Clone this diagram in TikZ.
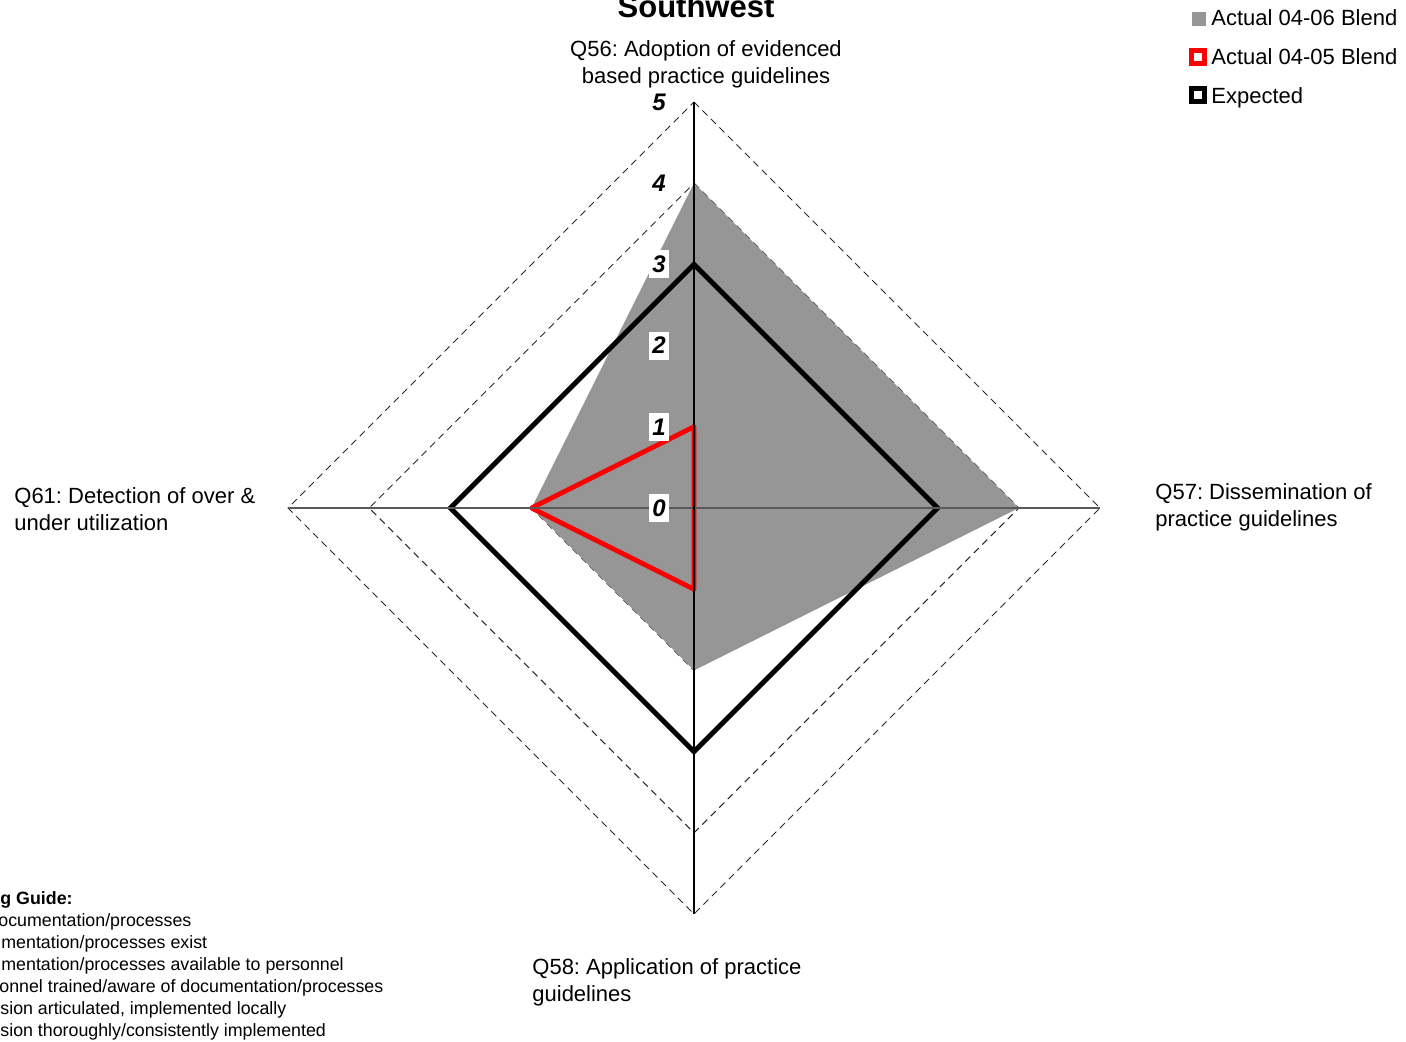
\documentclass[tikz,border=0pt]{standalone}
\usepackage{fontspec}
\setmainfont{Liberation Sans}
\frenchspacing
\definecolor{chartgray}{RGB}{150,150,150}
\definecolor{gridgray}{RGB}{40,40,40}
\begin{document}
\begin{tikzpicture}[x=0.5pt,y=-0.5pt,
  gridline/.style={draw=gridgray, line width=0.5pt, dash pattern=on 3.5pt off 2.5pt},
  actualnew/.style={fill=chartgray},
  actualold/.style={draw=red, line width=2.4pt, line join=round},
  expected/.style={draw=black, line width=2.5pt, line join=miter},
  vaxis/.style={draw=black, line width=0.6pt},
  haxis/.style={draw=black!65, line width=1pt},
  numlab/.style={fill=white, inner sep=0pt, minimum width=10pt, minimum height=14pt, font=\bfseries\itshape\fontsize{12}{14}\selectfont},
  axlab/.style={inner sep=0pt, font=\fontsize{11}{13.5}\selectfont},
  legtext/.style={anchor=west, inner sep=0pt, font=\fontsize{11}{13.5}\selectfont},
  guide/.style={anchor=base west, inner sep=0pt, font=\fontsize{8.9}{11}\selectfont}
]
\useasboundingbox (0,0) rectangle (1406,1042);
\clip (0,0) rectangle (1406,1042);

% axis end points
\coordinate (T5) at (694,102);
\coordinate (R5) at (1100,508);
\coordinate (B5) at (694,914);
\coordinate (L5) at (288,508);

% dashed grid rings
\foreach \k in {1,...,5}
  \draw[gridline] (694,{508-81.2*\k}) -- ({694+81.2*\k},508) -- (694,{508+81.2*\k}) -- ({694-81.2*\k},508) -- cycle;

% Actual 04-06 Blend (gray area)
\coordinate (g1) at (694,183.2);
\coordinate (g2) at (1018.8,508);
\coordinate (g3) at (694,670.4);
\coordinate (g4) at (531.6,508);
\fill[actualnew] (g1) -- (g2) -- (g3) -- (g4) -- cycle;

% Expected
\coordinate (e1) at (694,264.4);
\coordinate (e2) at (937.6,508);
\coordinate (e3) at (694,751.6);
\coordinate (e4) at (450.4,508);
\draw[expected] (e1) -- (e2) -- (e3) -- (e4) -- cycle;

% Actual 04-05 Blend
\coordinate (r1) at (694,426.8);
\coordinate (r2) at (694,508);
\coordinate (r3) at (694,589.2);
\coordinate (r4) at (531.6,508);
\draw[actualold] (r1) -- (r2) -- (r3) -- (r4) -- cycle;

% axes
\draw[haxis] (L5) -- (R5);
\draw[vaxis] (T5) -- (B5);

% scale labels
\foreach \k in {0,...,5}
  \node[numlab] (n\k) at (659,{508-81.2*\k}) {\k};

% title
\node[anchor=base, inner sep=0pt, font=\bfseries\fontsize{15.5}{18}\selectfont] (title) at (696,18) {Southwest};

% axis labels
\node[axlab, align=center] (q56) at (706,64.5) {Q56: Adoption of evidenced\\based practice guidelines};
\node[axlab, align=left, anchor=west] (q57) at (1155,507.5) {Q57: Dissemination of\\practice guidelines};
\node[axlab, align=left, anchor=west] (q58) at (532,982) {Q58: Application of practice\\guidelines};
\node[axlab, align=left, anchor=west] (q61) at (14,509) {Q61: Detection of over \&\\under utilization};

% legend
\node[fill=chartgray, minimum size=7pt, inner sep=0pt] (lg1) at (1199,19) {};
\node[draw=red, fill=white, line width=2.5pt, minimum size=6.5pt, inner sep=0pt] (lg2) at (1198,57) {};
\node[draw=black, fill=white, line width=2.5pt, minimum size=6.5pt, inner sep=0pt] (lg3) at (1198,95) {};
\node[legtext] (lt1) at (1211,18) {Actual 04-06 Blend};
\node[legtext] (lt2) at (1211,57) {Actual 04-05 Blend};
\node[legtext] (lt3) at (1211,97.5) {Expected};

% scoring guide (cut off at left edge)
\node[guide, font=\bfseries\fontsize{8.9}{11}\selectfont] (sg0) at (0,904) {g Guide:};
\node[guide] (sg1) at (-2,926) {ocumentation/processes};
\node[guide] (sg2) at (1,948) {mentation/processes exist};
\node[guide] (sg3) at (1,970) {mentation/processes available to personnel};
\node[guide] (sg4) at (-1,992) {onnel trained/aware of documentation/processes};
\node[guide] (sg5) at (0,1014) {sion articulated, implemented locally};
\node[guide] (sg6) at (0,1036) {sion thoroughly/consistently implemented};
\end{tikzpicture}
\end{document}
